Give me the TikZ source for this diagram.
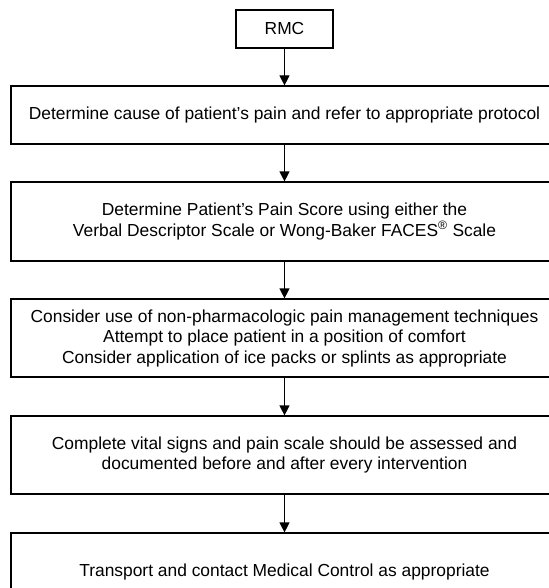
\documentclass[tikz,border=0pt]{standalone}
\usepackage{fontspec}
\setmainfont{Liberation Sans}
\usetikzlibrary{arrows.meta}
\begin{document}
\begin{tikzpicture}[x=1pt,y=-1pt,
  stepbox/.style={draw,line width=1.2pt,align=center,inner sep=0pt,
    font=\fontsize{17.4}{20.5}\selectfont},
  flow/.style={line width=1.2pt,-{Triangle[length=10pt,width=10pt]}}]
\useasboundingbox (0,0) rectangle (548,588);

% Boxes
\node[stepbox,minimum width=97pt,minimum height=38pt] (rmc) at (284.5,29) {RMC};
\node[stepbox,minimum width=547pt,minimum height=58pt] (cause) at (284.5,115)
  {Determine cause of patient's pain and refer to appropriate protocol};
\node[stepbox,minimum width=547pt,minimum height=79pt] (score) at (284.5,221.5)
  {Determine Patient's Pain Score using either the\\
   Verbal Descriptor Scale or Wong-Baker FACES\textsuperscript{\textregistered}\ Scale};
\node[stepbox,minimum width=547pt,minimum height=78pt] (comfort) at (284.5,338)
  {Consider use of non-pharmacologic pain management techniques\\
   Attempt to place patient in a position of comfort\\
   Consider application of ice packs or splints as appropriate};
\node[stepbox,minimum width=547pt,minimum height=78pt] (vitals) at (284.5,455)
  {Complete vital signs and pain scale should be assessed and\\
   documented before and after every intervention};
\node[stepbox,minimum width=547pt,minimum height=78pt] (transport) at (284.5,572)
  {Transport and contact Medical Control as appropriate};

% Arrows
\draw[flow] (rmc) -- (cause);
\draw[flow] (cause) -- (score);
\draw[flow] (score) -- (comfort);
\draw[flow] (comfort) -- (vitals);
\draw[flow] (vitals) -- (transport);

\end{tikzpicture}
\end{document}
